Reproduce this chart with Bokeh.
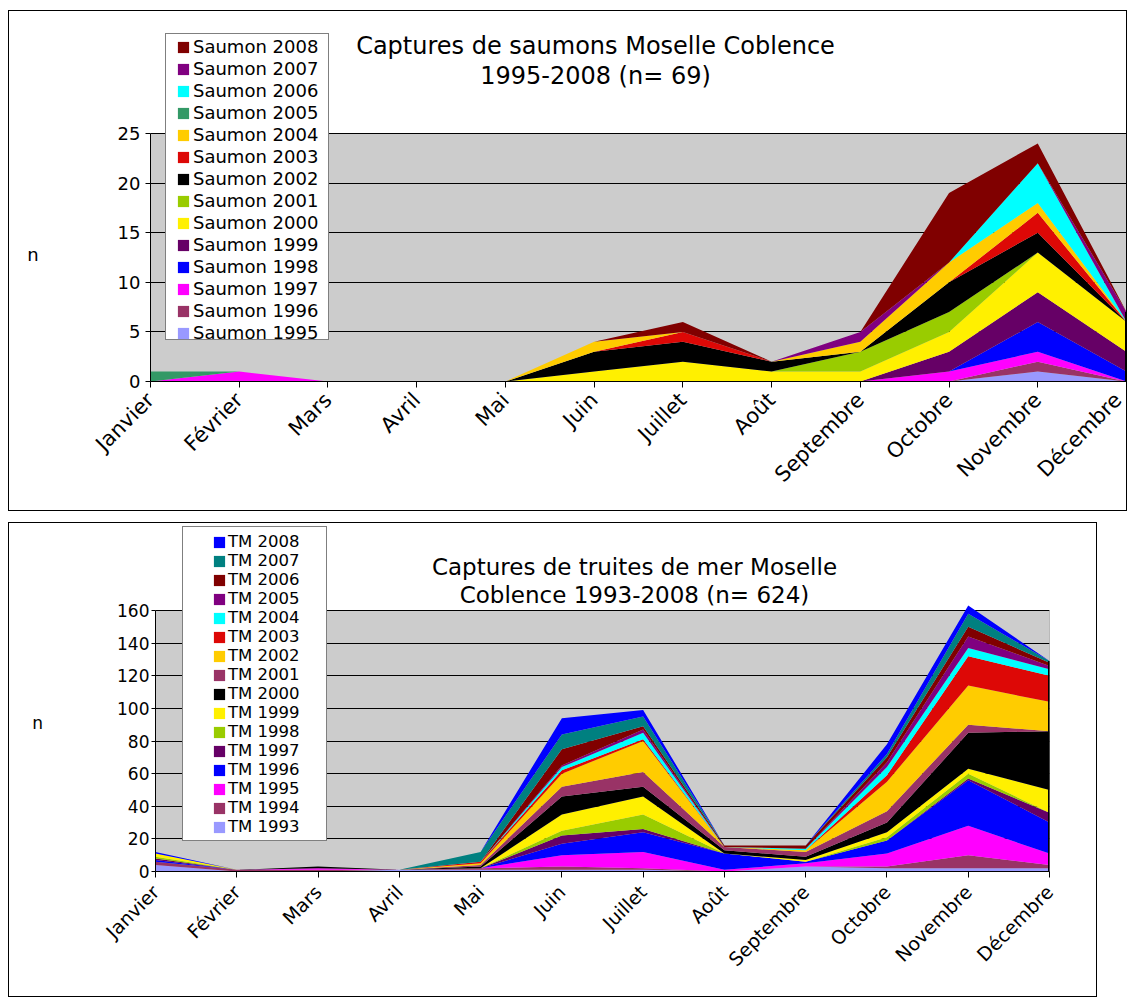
import math
from bokeh.plotting import figure
from bokeh.models import ColumnDataSource, Range1d, FixedTicker, Legend, LegendItem, Label
from bokeh.embed import file_html
from bokeh.resources import INLINE

FONT = "DejaVu Sans"

months = ["Janvier", "Février", "Mars", "Avril", "Mai", "Juin", "Juillet",
          "Août", "Septembre", "Octobre", "Novembre", "Décembre"]

# ---- Saumons (captures par mois) ----
s1995 = [0, 0, 0, 0, 0, 0, 0, 0, 0, 0, 1, 0]
s1996 = [0, 0, 0, 0, 0, 0, 0, 0, 0, 0, 1, 0]
s1997 = [0, 1, 0, 0, 0, 0, 0, 0, 0, 1, 1, 0]
s1998 = [0, 0, 0, 0, 0, 0, 0, 0, 0, 0, 3, 1]
s1999 = [0, 0, 0, 0, 0, 0, 0, 0, 0, 2, 3, 2]
s2000 = [0, 0, 0, 0, 0, 1, 2, 1, 1, 2, 4, 3]
s2001 = [0, 0, 0, 0, 0, 0, 0, 0, 2, 2, 0, 0]
s2002 = [0, 0, 0, 0, 0, 2, 2, 1, 0, 3, 2, 0]
s2003 = [0, 0, 0, 0, 0, 0, 1, 0, 0, 0, 2, 0]
s2004 = [0, 0, 0, 0, 0, 1, 0, 0, 1, 2, 1, 0]
s2005 = [1, 0, 0, 0, 0, 0, 0, 0, 0, 0, 0, 0]
s2006 = [0, 0, 0, 0, 0, 0, 0, 0, 0, 0, 4, 0]
s2007 = [0, 0, 0, 0, 0, 0, 0, 0, 1, 0, 0, 1]
s2008 = [0, 0, 0, 0, 0, 0, 1, 0, 0, 7, 2, 0]

saumon_series = [("Saumon 1995", s1995, "#9999FF"), ("Saumon 1996", s1996, "#993366"),
                 ("Saumon 1997", s1997, "#FF00FF"), ("Saumon 1998", s1998, "#0000FF"),
                 ("Saumon 1999", s1999, "#660066"), ("Saumon 2000", s2000, "#FFF000"),
                 ("Saumon 2001", s2001, "#99CC00"), ("Saumon 2002", s2002, "#000000"),
                 ("Saumon 2003", s2003, "#DD0806"), ("Saumon 2004", s2004, "#FFCC00"),
                 ("Saumon 2005", s2005, "#339966"), ("Saumon 2006", s2006, "#00FFFF"),
                 ("Saumon 2007", s2007, "#800080"), ("Saumon 2008", s2008, "#800000")]
saumon_ticks = [0, 5, 10, 15, 20, 25]

# ---- Truites de mer ----
t1993 = [4, 0, 0, 1, 1, 1, 1, 0, 3, 2, 2, 2]
t1994 = [2, 1, 1, 0, 1, 2, 1, 0, 0, 1, 8, 2]
t1995 = [0, 0, 1, 0, 0, 7, 10, 1, 2, 8, 18, 7]
t1996 = [1, 0, 0, 0, 0, 7, 12, 10, 1, 8, 28, 19]
t1997 = [1, 0, 0, 0, 0, 5, 2, 0, 0, 0, 1, 6]
t1998 = [1, 0, 0, 0, 0, 3, 9, 0, 0, 2, 3, 0]
t1999 = [2, 0, 0, 0, 0, 10, 11, 0, 1, 3, 3, 14]
t2000 = [0, 0, 1, 0, 1, 11, 6, 2, 2, 6, 22, 36]
t2001 = [0, 0, 0, 0, 1, 6, 9, 2, 3, 7, 5, 0]
t2002 = [0, 0, 0, 0, 1, 8, 19, 0, 1, 18, 24, 18]
t2003 = [0, 0, 0, 0, 1, 2, 1, 0, 0, 4, 18, 16]
t2004 = [0, 0, 0, 0, 0, 2, 4, 0, 1, 5, 5, 4]
t2005 = [0, 0, 0, 0, 0, 1, 2, 0, 0, 3, 7, 2]
t2006 = [0, 0, 0, 0, 0, 10, 2, 1, 2, 3, 6, 2]
t2007 = [0, 0, 0, 0, 6, 9, 6, 0, 0, 2, 8, 1]
t2008 = [1, 0, 0, 0, 0, 10, 4, 0, 0, 6, 5, 0]

tm_series = [("TM 1993", t1993, "#9999FF"), ("TM 1994", t1994, "#993366"),
             ("TM 1995", t1995, "#FF00FF"), ("TM 1996", t1996, "#0000FF"),
             ("TM 1997", t1997, "#660066"), ("TM 1998", t1998, "#99CC00"),
             ("TM 1999", t1999, "#FFF000"), ("TM 2000", t2000, "#000000"),
             ("TM 2001", t2001, "#993366"), ("TM 2002", t2002, "#FFCC00"),
             ("TM 2003", t2003, "#DD0806"), ("TM 2004", t2004, "#00FFFF"),
             ("TM 2005", t2005, "#800080"), ("TM 2006", t2006, "#800000"),
             ("TM 2007", t2007, "#008080"), ("TM 2008", t2008, "#0000FF")]
tm_ticks = [0, 20, 40, 60, 80, 100, 120, 140, 160]


def make_chart(series, ticks, title1, title2, g, fs, leg):
    x_idx = list(range(len(months)))
    data = {"x": x_idx}
    for name, vals, _ in series:
        data[name] = vals
    src = ColumnDataSource(data)

    frame_h = g["height"] - g["top"] - g["bottom"]
    y_end = ticks[-1] * frame_h / g["gray_h"]

    p = figure(width=g["width"], height=g["height"], output_backend="svg",
               toolbar_location=None,
               x_range=Range1d(x_idx[0], x_idx[-1]), y_range=Range1d(0, y_end),
               min_border_left=g["left"], min_border_right=g["right"],
               min_border_top=g["top"], min_border_bottom=g["bottom"],
               background_fill_color="white", border_fill_color="white",
               outline_line_color=None,
               styles={"border": "1px solid black"}, margin=g["margin"])

    # grey plot area
    p.quad(left=x_idx[0], right=x_idx[-1], bottom=0, top=ticks[-1],
           fill_color="#CCCCCC", line_color="#808080", line_width=1, level="image")

    names = [s[0] for s in series]
    colors = [s[2] for s in series]
    rends = p.varea_stack(stackers=names, x="x", color=colors, source=src)

    totals = [sum(s[1][i] for s in series) for i in x_idx]
    p.segment(x0=[x_idx[-1]], y0=[0], x1=[x_idx[-1]], y1=[totals[-1]],
              line_color="black", line_width=3)

    p.xgrid.visible = False
    p.ygrid.ticker = FixedTicker(ticks=ticks)
    p.ygrid.grid_line_color = "black"
    p.ygrid.grid_line_width = 1

    xa = p.xaxis[0]
    xa.ticker = FixedTicker(ticks=x_idx)
    xa.major_label_overrides = {i: m for i, m in enumerate(months)}
    xa.major_label_orientation = math.pi / 4
    xa.major_label_text_font = FONT
    xa.major_label_text_font_size = fs["month"]
    xa.major_label_text_color = "black"
    xa.major_tick_out = 6
    xa.major_tick_in = 0
    xa.minor_tick_line_color = None
    xa.axis_line_color = "black"
    xa.major_tick_line_color = "black"
    xa.major_label_standoff = fs["month_standoff"]

    ya = p.yaxis[0]
    ya.bounds = (0, ticks[-1])
    ya.ticker = FixedTicker(ticks=ticks)
    ya.major_label_text_font = FONT
    ya.major_label_text_font_size = fs["tick"]
    ya.major_label_text_color = "black"
    ya.major_tick_out = fs["tick_out"]
    ya.major_tick_in = 0
    ya.minor_tick_line_color = None
    ya.axis_line_color = "black"
    ya.major_tick_line_color = "black"
    ya.major_label_standoff = fs["standoff"]
    # blank lines push the single "n" down to the middle of the grey area
    ya.axis_label = "\n" * fs["n_shift"] + "n"
    ya.axis_label_orientation = "horizontal"
    ya.axis_label_standoff = fs["n_standoff"]
    ya.axis_label_text_font = FONT
    ya.axis_label_text_font_size = fs["tick"]
    ya.axis_label_text_font_style = "normal"
    ya.axis_label_text_color = "black"

    # legend frame (white box)
    dummy = p.scatter(x=[], y=[], fill_alpha=0, line_alpha=0)
    frame_leg = Legend(items=[LegendItem(label=" ", renderers=[dummy])],
                       location=leg["box_loc"], padding=0, margin=0, spacing=0,
                       glyph_width=1, glyph_height=1, label_standoff=0,
                       label_width=leg["box_w"] - 1, label_height=leg["box_h"],
                       border_line_color="black", border_line_width=1,
                       background_fill_color="white", background_fill_alpha=1,
                       label_text_font_size="10px")
    p.add_layout(frame_leg, "center")

    items = [LegendItem(label=n, renderers=[r]) for n, r in zip(names, rends)]
    items.reverse()
    leg_items = Legend(items=items, location=leg["items_loc"], padding=0, margin=0,
                       spacing=leg["spacing"], glyph_width=14, glyph_height=14,
                       label_standoff=leg["standoff"], label_height=leg["label_h"],
                       label_text_font=FONT, label_text_font_size=fs["legend"],
                       label_text_color="black",
                       border_line_color=None, background_fill_alpha=0)
    p.add_layout(leg_items, "center")

    for txt, pos in ((title1, leg["t1"]), (title2, leg["t2"])):
        p.add_layout(Label(x=pos[0], y=pos[1], x_units="screen", y_units="screen",
                           text=txt, text_align="center", text_baseline="middle",
                           text_font=FONT, text_font_size=fs["title"], text_color="black"))
    return p


p1 = make_chart(saumon_series, saumon_ticks,
                "Captures de saumons Moselle Coblence", "1995-2008 (n= 69)",
                {"width": 1119, "height": 501, "left": 141, "right": 2, "top": 15,
                 "bottom": 131, "gray_h": 248, "margin": (10, 0, 0, 8)},
                {"month": "21px", "tick": "18px", "legend": "18px", "title": "24px",
                 "tick_out": 5, "standoff": 5, "n_standoff": 76, "n_shift": 4,
                 "month_standoff": 9},
                {"box_loc": (15, 41), "box_w": 162, "box_h": 305,
                 "items_loc": (26, 38), "spacing": 1, "label_h": 21, "standoff": 3,
                 "t1": (445, 336), "t2": (445, 306)})

p2 = make_chart(tm_series, tm_ticks,
                "Captures de truites de mer Moselle", "Coblence 1993-2008 (n= 624)",
                {"width": 1089, "height": 475, "left": 146, "right": 49, "top": 2,
                 "bottom": 127, "gray_h": 261, "margin": (11, 0, 0, 8)},
                {"month": "19px", "tick": "17px", "legend": "16.5px", "title": "23px",
                 "tick_out": 4, "standoff": 2, "n_standoff": 71, "n_shift": 2,
                 "month_standoff": 11},
                {"box_loc": (27, 30), "box_w": 143, "box_h": 313,
                 "items_loc": (57, 35), "spacing": 0, "label_h": 19, "standoff": 2,
                 "t1": (479, 305), "t2": (479, 277)})

open("out.html", "w").write(file_html([p1, p2], INLINE))
